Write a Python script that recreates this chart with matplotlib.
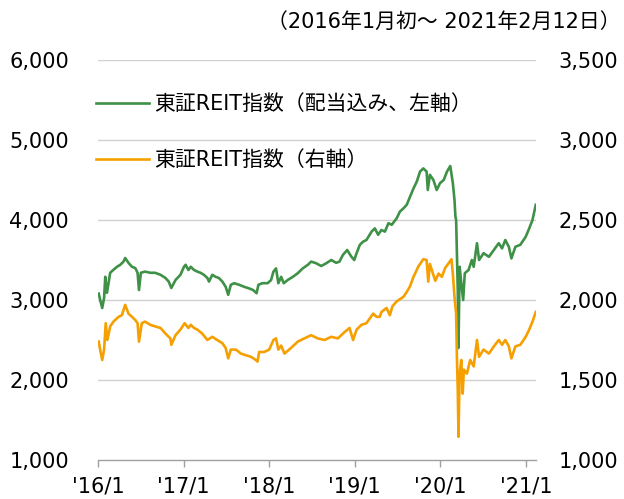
import pandas as pd
import matplotlib
matplotlib.use("Agg")
import matplotlib.pyplot as plt
from matplotlib.lines import Line2D
from matplotlib.ticker import FuncFormatter

plt.rcParams["font.family"] = ["DejaVu Sans", "Noto Sans CJK JP"]

# 東証REIT指数（配当込み） - left axis
green_dates = [
    "2016-01-04", "2016-01-12", "2016-01-19", "2016-01-27", "2016-02-01", "2016-02-08",
    "2016-02-15", "2016-02-22", "2016-03-06", "2016-03-22", "2016-04-05", "2016-04-19",
    "2016-04-26", "2016-05-10", "2016-05-25", "2016-06-08", "2016-06-18", "2016-06-24",
    "2016-07-02", "2016-07-20", "2016-08-11", "2016-09-01", "2016-09-24", "2016-10-15",
    "2016-10-29", "2016-11-09", "2016-11-27", "2016-12-18", "2017-01-02", "2017-01-09",
    "2017-01-21", "2017-01-31", "2017-02-14", "2017-02-28", "2017-03-14", "2017-03-28",
    "2017-04-12", "2017-04-19", "2017-05-03", "2017-05-17", "2017-05-31", "2017-06-15",
    "2017-06-29", "2017-07-10", "2017-07-21", "2017-08-04", "2017-08-26", "2017-09-16",
    "2017-10-07", "2017-10-24", "2017-11-08", "2017-11-16", "2017-12-03", "2017-12-25",
    "2018-01-09", "2018-01-19", "2018-01-30", "2018-02-09", "2018-02-21", "2018-03-04",
    "2018-03-21", "2018-04-12", "2018-05-03", "2018-05-24", "2018-06-15", "2018-06-29",
    "2018-07-20", "2018-08-11", "2018-09-02", "2018-09-23", "2018-10-14", "2018-10-28",
    "2018-11-12", "2018-11-30", "2018-12-18", "2018-12-30", "2019-01-09", "2019-01-23",
    "2019-02-06", "2019-02-20", "2019-03-14", "2019-03-28", "2019-04-11", "2019-04-25",
    "2019-05-10", "2019-05-25", "2019-06-08", "2019-06-29", "2019-07-13", "2019-07-28",
    "2019-08-11", "2019-08-25", "2019-09-09", "2019-09-23", "2019-10-07", "2019-10-21",
    "2019-11-04", "2019-11-09", "2019-11-18", "2019-12-03", "2019-12-17", "2019-12-31",
    "2020-01-16", "2020-01-30", "2020-02-13", "2020-02-24", "2020-03-02", "2020-03-06",
    "2020-03-09", "2020-03-16", "2020-03-19", "2020-03-24", "2020-03-31", "2020-04-08",
    "2020-04-15", "2020-05-01", "2020-05-15", "2020-05-23", "2020-06-06", "2020-06-15",
    "2020-07-04", "2020-07-27", "2020-08-17", "2020-09-07", "2020-09-21", "2020-10-05",
    "2020-10-20", "2020-10-31", "2020-11-17", "2020-12-08", "2020-12-31", "2021-01-15",
    "2021-01-29", "2021-02-12",
]
green_vals = [
    3080, 2980, 2900, 3025, 3290, 3090,
    3210, 3340, 3375, 3415, 3440, 3480,
    3525, 3465, 3415, 3400, 3340, 3125,
    3340, 3355, 3340, 3340, 3315, 3275,
    3230, 3150, 3250, 3315, 3415, 3440,
    3375, 3415, 3375, 3355, 3340, 3315,
    3275, 3230, 3315, 3290, 3275, 3230,
    3165, 3065, 3190, 3210, 3190, 3165,
    3145, 3125, 3085, 3190, 3210, 3210,
    3250, 3355, 3395, 3210, 3290, 3210,
    3250, 3290, 3335, 3395, 3440, 3480,
    3460, 3425, 3460, 3500, 3465, 3480,
    3565, 3625, 3540, 3500, 3585, 3690,
    3730, 3750, 3855, 3895, 3815, 3875,
    3855, 3960, 3940, 4020, 4105, 4145,
    4190, 4290, 4395, 4480, 4605, 4645,
    4605, 4375, 4565, 4500, 4375, 4460,
    4500, 4605, 4675, 4460, 4250, 4040,
    4000, 3125, 2400, 3415, 3210, 3000,
    3335, 3375, 3500, 3415, 3710, 3500,
    3585, 3540, 3625, 3710, 3645, 3750,
    3665, 3520, 3665, 3690, 3790, 3895,
    4000, 4190,
]

# 東証REIT指数 - right axis
orange_dates = [
    "2016-01-04", "2016-01-12", "2016-01-19", "2016-01-27", "2016-02-03", "2016-02-10",
    "2016-02-22", "2016-03-07", "2016-03-29", "2016-04-12", "2016-04-26", "2016-05-10",
    "2016-05-25", "2016-06-08", "2016-06-18", "2016-06-24", "2016-07-06", "2016-07-20",
    "2016-08-11", "2016-09-01", "2016-09-24", "2016-10-15", "2016-11-05", "2016-11-09",
    "2016-11-27", "2016-12-18", "2017-01-05", "2017-01-21", "2017-01-31", "2017-02-14",
    "2017-02-28", "2017-03-21", "2017-04-12", "2017-05-03", "2017-05-24", "2017-06-15",
    "2017-06-29", "2017-07-10", "2017-07-21", "2017-08-12", "2017-09-02", "2017-09-23",
    "2017-10-15", "2017-11-05", "2017-11-12", "2017-11-19", "2017-12-10", "2018-01-01",
    "2018-01-19", "2018-01-30", "2018-02-09", "2018-02-21", "2018-03-07", "2018-04-04",
    "2018-05-03", "2018-05-31", "2018-06-29", "2018-07-27", "2018-08-25", "2018-09-23",
    "2018-10-21", "2018-11-19", "2018-12-10", "2018-12-25", "2019-01-09", "2019-01-30",
    "2019-02-20", "2019-03-21", "2019-04-04", "2019-04-18", "2019-04-25", "2019-05-17",
    "2019-05-31", "2019-06-11", "2019-06-28", "2019-07-28", "2019-08-11", "2019-08-25",
    "2019-09-09", "2019-09-30", "2019-10-21", "2019-11-04", "2019-11-11", "2019-11-18",
    "2019-12-11", "2019-12-25", "2020-01-08", "2020-01-22", "2020-02-06", "2020-02-18",
    "2020-02-24", "2020-03-02", "2020-03-09", "2020-03-12", "2020-03-16", "2020-03-19",
    "2020-03-24", "2020-03-31", "2020-04-06", "2020-04-11", "2020-04-24", "2020-05-08",
    "2020-05-23", "2020-06-06", "2020-06-15", "2020-07-04", "2020-07-27", "2020-08-17",
    "2020-09-07", "2020-09-21", "2020-10-05", "2020-10-20", "2020-10-31", "2020-11-17",
    "2020-12-08", "2020-12-31", "2021-01-15", "2021-01-29", "2021-02-12",
]
orange_vals = [
    1740, 1675, 1625, 1690, 1855, 1750,
    1835, 1865, 1895, 1905, 1970, 1915,
    1895, 1875, 1855, 1740, 1855, 1865,
    1845, 1835, 1825, 1790, 1760, 1720,
    1780, 1815, 1855, 1825, 1845, 1825,
    1815, 1790, 1750, 1770, 1750, 1730,
    1700, 1635, 1690, 1690, 1665, 1655,
    1645, 1625, 1615, 1675, 1675, 1690,
    1750, 1760, 1690, 1715, 1665, 1700,
    1740, 1760, 1780, 1760, 1750, 1770,
    1760, 1800, 1825, 1750, 1815, 1845,
    1855, 1915, 1895, 1895, 1925, 1950,
    1905, 1960, 1990, 2020, 2050, 2085,
    2145, 2210, 2255, 2250, 2115, 2225,
    2120, 2165, 2145, 2200, 2230, 2255,
    2165, 2020, 1915, 1665, 1440, 1145,
    1540, 1625, 1415, 1565, 1540, 1625,
    1585, 1750, 1645, 1690, 1665, 1710,
    1750, 1720, 1750, 1710, 1635, 1710,
    1720, 1770, 1815, 1865, 1925,
]

left_ticks = [1000, 2000, 3000, 4000, 5000, 6000]
right_ticks = [1000, 1500, 2000, 2500, 3000, 3500]
year_ticks = ["2016-01-01", "2017-01-01", "2018-01-01", "2019-01-01", "2020-01-01", "2021-01-01"]
year_labels = ["'16/1", "'17/1", "'18/1", "'19/1", "'20/1", "'21/1"]

GREEN = "#3f9147"
ORANGE = "#f5a000"
FS = 15

fig = plt.figure(figsize=(6.24, 4.99), dpi=100)
ax = fig.add_axes([98 / 624, 1 - 460 / 499, 438 / 624, 400 / 499])
ax2 = ax.twinx()

g_dates = pd.to_datetime(green_dates)
o_dates = pd.to_datetime(orange_dates)
ax.plot(g_dates, green_vals, color=GREEN, lw=1.9, solid_joinstyle="round", zorder=3)
ax2.plot(o_dates, orange_vals, color=ORANGE, lw=1.9, solid_joinstyle="round", zorder=3)

ax.set_xlim(pd.Timestamp("2016-01-01"), pd.Timestamp("2021-02-13"))
ax.set_ylim(1000, 6000)
ax2.set_ylim(1000, 3500)

for v in left_ticks[1:]:
    ax.axhline(v, color="#d0d0d0", lw=1.0, zorder=1)

fmt = FuncFormatter(lambda v, p: f"{v:,.0f}")
ax.set_yticks(left_ticks)
ax.yaxis.set_major_formatter(fmt)
ax2.set_yticks(right_ticks)
ax2.yaxis.set_major_formatter(fmt)
ax.tick_params(axis="y", length=0, pad=21, labelsize=FS)
ax2.tick_params(axis="y", length=0, pad=16, labelsize=FS)

ax.set_xticks(pd.to_datetime(year_ticks))
ax.set_xticklabels(year_labels)
ax.tick_params(axis="x", direction="out", length=5, width=1, color="#a0a0a0",
               labelsize=FS, pad=7)

for a in (ax, ax2):
    for s in ("top", "left", "right"):
        a.spines[s].set_visible(False)
    a.spines["bottom"].set_color("#a0a0a0")
    a.spines["bottom"].set_linewidth(1.0)
ax2.spines["bottom"].set_visible(False)

handles = [Line2D([], [], color=GREEN, lw=1.9), Line2D([], [], color=ORANGE, lw=1.9)]
labels = ["東証REIT指数（配当込み、左軸）", "東証REIT指数（右軸）"]
ax2.legend(handles, labels, loc="upper left", bbox_to_anchor=(96 / 624, 1 - 94 / 499),
           bbox_transform=fig.transFigure, frameon=False, fontsize=FS,
           handlelength=2.55, handletextpad=0.25, labelspacing=1.75, borderpad=0,
           borderaxespad=0)

fig.text(621 / 624, 1 - 22 / 499, "（2016年1月初～ 2021年2月12日）", ha="right", va="center",
         fontsize=FS)

fig.savefig("out.png", dpi=100)
